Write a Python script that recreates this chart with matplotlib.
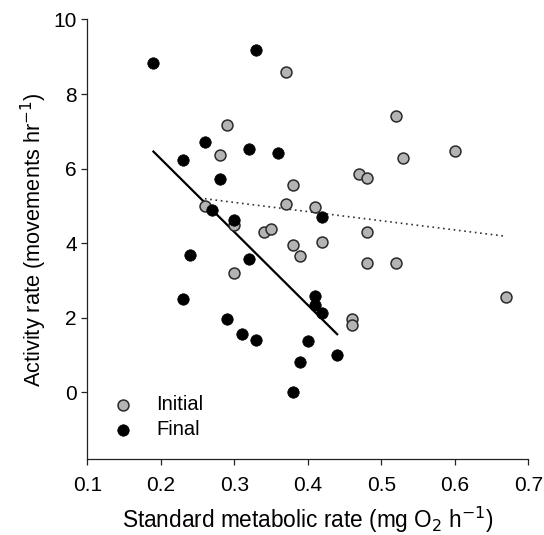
import matplotlib
matplotlib.use("Agg")
import matplotlib.pyplot as plt
import numpy as np

plt.rcParams['font.family'] = ['Liberation Sans', 'DejaVu Sans']

# Initial (grey) series
initial_x = [0.37, 0.29, 0.28, 0.38, 0.37, 0.41, 0.26, 0.30, 0.34, 0.35,
             0.38, 0.42, 0.30, 0.39, 0.52, 0.60, 0.53, 0.47, 0.48, 0.48,
             0.48, 0.52, 0.67, 0.46, 0.46]
initial_y = [8.60, 7.17, 6.37, 5.55, 5.06, 4.96, 5.00, 4.49, 4.30, 4.39,
             3.94, 4.02, 3.19, 3.65, 7.40, 6.47, 6.29, 5.86, 5.75, 4.30,
             3.47, 3.47, 2.55, 1.97, 1.81]

# Final (black) series
final_x = [0.19, 0.33, 0.26, 0.32, 0.36, 0.23, 0.28, 0.42, 0.27, 0.30,
           0.24, 0.32, 0.23, 0.41, 0.41, 0.29, 0.31, 0.33, 0.40, 0.39,
           0.38, 0.42, 0.44]
final_y = [8.84, 9.18, 6.71, 6.52, 6.43, 6.22, 5.72, 4.71, 4.88, 4.62,
           3.67, 3.57, 2.50, 2.57, 2.34, 1.96, 1.55, 1.39, 1.37, 0.82,
           0.01, 2.12, 1.01]

# Regression lines (slope, intercept)
initial_fit = (-2.46, 5.83)
final_fit = (-19.6, 10.18)

xticks = [0.1, 0.2, 0.3, 0.4, 0.5, 0.6, 0.7]
xticklabels = ['0.1', '0.2', '0.3', '0.4', '0.5', '0.6', '0.7']
yticks = [0, 2, 4, 6, 8, 10]

fig = plt.figure(figsize=(5.44, 5.35), dpi=100)
ax = fig.add_axes([0.1605, 0.1415, 0.971 - 0.1605, 0.9636 - 0.1415])

# fit lines
xi = np.array([min(initial_x), max(initial_x)])
ax.plot(xi, initial_fit[0] * xi + initial_fit[1], color='#333333',
        lw=1.2, linestyle=(0, (1, 2.2)), zorder=2)
xf = np.array([min(final_x), max(final_x)])
ax.plot(xf, final_fit[0] * xf + final_fit[1], color='black', lw=1.6, zorder=2)

ax.scatter(initial_x, initial_y, s=62, c='#b4b4b4', edgecolors='#2a2a2a',
           linewidths=1.1, zorder=3, label='Initial')
ax.scatter(final_x, final_y, s=68, c='black', edgecolors='black',
           linewidths=0.5, zorder=4, label='Final')

ax.set_xlim(0.1, 0.7)
ax.set_ylim(-1.8, 10)
ax.set_xticks(xticks)
ax.set_xticklabels(xticklabels)
ax.set_yticks(yticks)

for s in ['top', 'right']:
    ax.spines[s].set_visible(False)
for s in ['left', 'bottom']:
    ax.spines[s].set_linewidth(0.9)
    ax.spines[s].set_color('#222222')

ax.tick_params(axis='both', direction='out', length=4.5, width=0.9,
               color='#222222', labelsize=15)
ax.tick_params(axis='x', pad=7.5)
ax.tick_params(axis='y', pad=3)

ax.set_xlabel('Standard metabolic rate (mg O$_2$ h$^{-1}$)', fontsize=16.3, labelpad=7)
ax.set_ylabel('Activity rate (movements hr$^{-1}$)', fontsize=15.7, labelpad=3.5)

leg = ax.legend(loc='center left', bbox_to_anchor=(0.0576, 0.0955),
                frameon=False, fontsize=14.5, borderpad=0, borderaxespad=0,
                handlelength=1.0, handletextpad=1.15, labelspacing=0.3,
                scatterpoints=1)

fig.savefig('out.png', dpi=100)
